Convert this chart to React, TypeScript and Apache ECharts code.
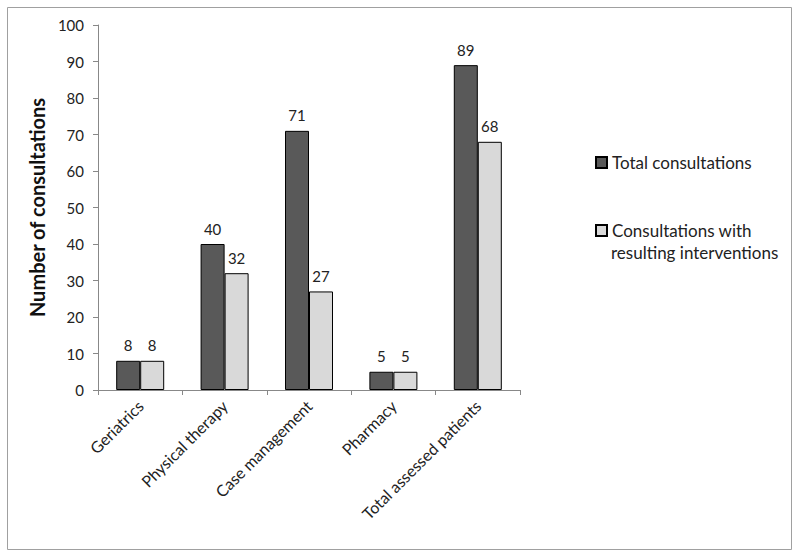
import React, { useEffect, useRef } from "react";
import * as echarts from "echarts";

const categories = ["Geriatrics", "Physical therapy", "Case management", "Pharmacy", "Total assessed patients"];
const totalConsultations = [8, 40, 71, 5, 89];
const withInterventions = [8, 32, 27, 5, 68];
const seriesNames = ["Total consultations", "Consultations with resulting interventions"];

const FONT = "Lato, 'Open Sans', sans-serif";

export default function App() {
  const ref = useRef<HTMLDivElement>(null);
  useEffect(() => {
    if (!ref.current) return;
    const chart = echarts.init(ref.current, null, { renderer: "svg" });
    const label = {
      show: true,
      position: "top" as const,
      distance: 8,
      fontSize: 15,
      color: "#222",
      fontFamily: FONT,
    };
    chart.setOption({
      animation: false,
      backgroundColor: "#fff",
      textStyle: { fontFamily: FONT },
      grid: { left: 98, top: 25, width: 422, height: 365 },
      legend: {
        orient: "vertical",
        left: 595,
        top: 154,
        padding: 0,
        itemWidth: 11,
        itemHeight: 11,
        itemGap: 51,
        icon: "rect",
        selectedMode: false,
        textStyle: { fontSize: 17, color: "#222", fontFamily: FONT },
        formatter: (n: string) => (n === seriesNames[1] ? "Consultations with" : n),
        data: seriesNames,
      },
      graphic: [
        {
          type: "rect",
          shape: { x: 7.5, y: 7.5, width: 784, height: 542 },
          style: { fill: "none", stroke: "#a0a0a0", lineWidth: 1 },
          silent: true,
        },
        {
          type: "text",
          left: 611,
          top: 244,
          style: { text: "resulting interventions", fontSize: 17, fill: "#222", fontFamily: FONT },
        },
      ],
      xAxis: {
        type: "category",
        data: categories,
        axisLine: { lineStyle: { color: "#888" } },
        axisTick: { show: true, length: 5, lineStyle: { color: "#888" } },
        axisLabel: { rotate: 45, fontSize: 16, color: "#222", margin: 13, interval: 0, fontFamily: FONT },
      },
      yAxis: {
        type: "value",
        min: 0,
        max: 100,
        interval: 10,
        name: "Number of consultations",
        nameLocation: "middle",
        nameGap: 47,
        nameTextStyle: { fontSize: 20, fontWeight: "bold", color: "#111", fontFamily: FONT },
        axisLine: { show: true, lineStyle: { color: "#888" } },
        axisTick: { show: true, length: 5, lineStyle: { color: "#888" } },
        splitLine: { show: false },
        axisLabel: { fontSize: 15, color: "#222", margin: 14, fontFamily: FONT },
      },
      series: [
        {
          name: seriesNames[0],
          type: "bar",
          data: totalConsultations,
          barWidth: 24,
          barGap: "0%",
          itemStyle: { color: "#595959", borderColor: "#000", borderWidth: 1 },
          label,
        },
        {
          name: seriesNames[1],
          type: "bar",
          data: withInterventions,
          barWidth: 24,
          barGap: "0%",
          itemStyle: { color: "#d9d9d9", borderColor: "#000", borderWidth: 1 },
          label,
        },
      ],
    });
    return () => chart.dispose();
  }, []);
  return (
    <div
      ref={ref}
      style={{ position: "fixed", left: 0, top: 0, width: 800, height: 558 }}
    />
  );
}
